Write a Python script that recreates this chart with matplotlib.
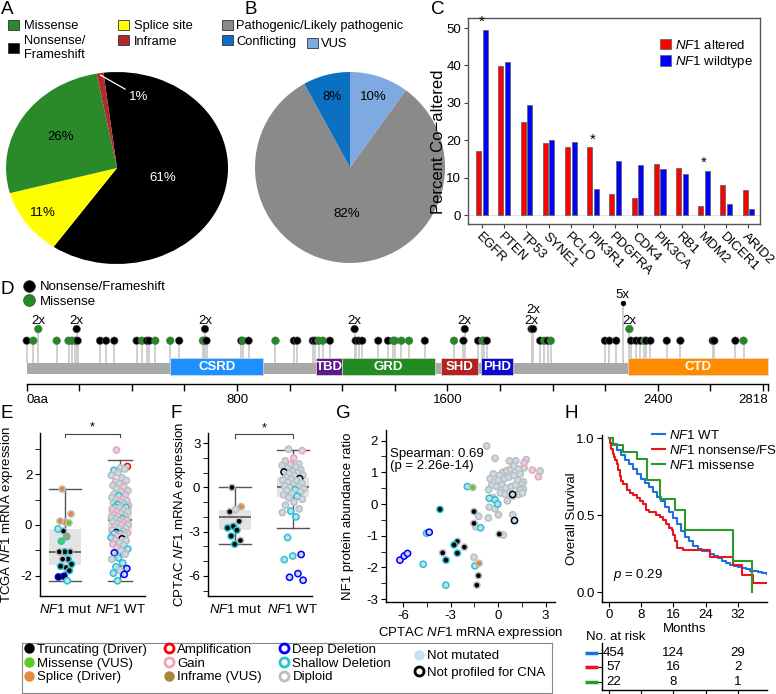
import numpy as np
import matplotlib
matplotlib.use('Agg')
import matplotlib.pyplot as plt
from matplotlib.patches import Patch
from matplotlib.lines import Line2D
import matplotlib.transforms as mtransforms

FS = 9.5
plt.rcParams.update({
    'font.family': ['Liberation Sans', 'DejaVu Sans'],
    'font.size': FS,
    'mathtext.fontset': 'custom',
    'mathtext.rm': 'Liberation Sans',
    'mathtext.it': 'Liberation Sans:italic',
    'mathtext.bf': 'Liberation Sans:bold',
    'axes.unicode_minus': False,
    'axes.linewidth': 1.0,
})

W, H = 776, 694
def rect(x0, y0, x1, y1):
    return [x0 / W, 1 - y1 / H, (x1 - x0) / W, (y1 - y0) / H]
def fx(x): return x / W
def fy(y): return 1 - y / H
NF1 = r'$\it{NF1}$'

# ---------------- data ----------------
a_labels = ['Nonsense/\nFrameshift', 'Splice site', 'Missense', 'Inframe']
a_values = [61, 11, 26, 1]
a_colors = ['#000000', '#FFFF00', '#2A8A2A', '#B22A2A']

b_labels = ['VUS', 'Pathogenic/Likely pathogenic', 'Conflicting']
b_values = [10, 82, 8]
b_colors = ['#7EA9E1', '#8A8A8A', '#0B70C2']

c_genes = ['EGFR', 'PTEN', 'TP53', 'SYNE1', 'PCLO', 'PIK3R1', 'PDGFRA', 'CDK4',
           'PIK3CA', 'RB1', 'MDM2', 'DICER1', 'ARID2']
c_altered = [17.0, 39.8, 25.0, 19.3, 18.1, 18.1, 5.7, 4.6, 13.6, 12.5, 2.3, 8.0, 6.8]
c_wildtype = [49.6, 41.0, 29.5, 20.0, 19.6, 6.9, 14.5, 13.4, 12.3, 11.0, 11.9, 2.9, 1.6]
c_signif = ['EGFR', 'PIK3R1', 'MDM2']

d_length = 2818
d_dom_names = ['CSRD', 'TBD', 'GRD', 'SHD', 'PHD', 'CTD']
d_dom_start = [546, 1100, 1199, 1574, 1729, 2288]
d_dom_end = [900, 1199, 1551, 1716, 1851, 2818]
d_dom_colors = ['#1E90FF', '#5A1A8C', '#228B22', '#B22222', '#0A0ACD', '#FF8C00']
d_pos = [0, 25, 44, 114, 159, 172, 185, 190, 194, 279, 302, 333, 418, 438, 457, 466,
         489, 546, 580, 670, 676, 678, 684, 816, 822, 844, 946, 1016, 1029, 1088,
         1098, 1110, 1126, 1153, 1247, 1251, 1263, 1276, 1337, 1374, 1394, 1400,
         1425, 1454, 1514, 1625, 1661, 1666, 1717, 1733, 1740, 1750, 1920, 1926,
         1953, 1968, 1981, 1993, 2199, 2216, 2242, 2267, 2292, 2298, 2318, 2334,
         2349, 2356, 2372, 2434, 2486, 2609, 2615, 2695, 2726]
d_type = ['N', 'M', 'M', 'M', 'M', 'M', 'M', 'N', 'N', 'N', 'N', 'N', 'N', 'M', 'N', 'N',
          'M', 'M', 'N', 'M', 'M', 'N', 'N', 'N', 'M', 'N', 'M', 'N', 'N', 'N',
          'N', 'M', 'M', 'N', 'N', 'N', 'N', 'N', 'N', 'N', 'M', 'M',
          'M', 'M', 'N', 'M', 'N', 'N', 'N', 'M', 'M', 'N', 'N', 'N',
          'N', 'M', 'N', 'M', 'N', 'N', 'N', 'N', 'M', 'N', 'N', 'N',
          'M', 'N', 'N', 'N', 'N', 'N', 'N', 'N', 'M']
d_count = [1, 1, 2, 1, 1, 1, 1, 2, 1, 1, 1, 1, 1, 1, 1, 1,
           1, 1, 1, 1, 1, 2, 1, 1, 1, 1, 1, 1, 1, 1,
           1, 1, 1, 1, 2, 1, 1, 1, 1, 1, 1, 1,
           1, 1, 1, 1, 1, 2, 1, 1, 1, 1, 2, 2,
           1, 1, 1, 1, 1, 1, 1, 5, 2, 1, 1, 1,
           1, 1, 1, 1, 1, 1, 1, 1, 1]
d_ticks = [0, 800, 1600, 2400, 2818]
d_ticklabels = ['0aa', '800', '1600', '2400', '2818']

# E: TCGA NF1 mRNA
e_mut_vals = [1.41, 0.43, 0.10, 0.15, 0.08, -0.24, -0.16, -0.46, -0.64, -1.06, -1.06,
              -1.06, -1.35, -1.35, -1.55, -1.68, -1.63, -1.80, -2.02, -2.05, -2.20]
e_mut_type = 'S S S S M T N S M T T T T T T T T T T T N'.split()
e_mut_cna = '2 2 2 2 2 2 S S S 2 S 2 S 2 S 2 S S D D S'.split()
e_wt_vals = [2.95, 2.30, 2.25, 2.15, 2.20, 2.05, 1.95, 1.85, 1.70, 1.75,
             1.62, 1.55, 1.50, 1.42, 1.35, 1.30, 1.22, 1.18, 1.15, 1.08,
             1.02, 0.98, 0.95, 0.90, 0.85, 0.82, 0.80, 0.76, 0.72, 0.70,
             0.69, 0.65, 0.60, 0.58, 0.52, 0.50, 0.45, 0.40, 0.35, 0.33,
             0.30, 0.25, 0.22, 0.18, 0.15, 0.10, 0.08, 0.05, 0.00, -0.02,
             -0.08, -0.12, -0.15, -0.20, -0.25, -0.30, -0.33, -0.35, -0.36, -0.40,
             -0.45, -0.50, -0.55, -0.60, -0.62, -0.70, -0.75, -0.80, -0.90, -0.95,
             -1.00, -1.10, -1.15, -1.30, -1.35, -1.50, -1.65, -1.72, -1.80, -1.90,
             -1.95, -2.20]
e_wt_cna = ('G A 2 S 2 2 2 2 G 2 '
            '2 2 G 2 2 G 2 G S 2 '
            'G 2 2 G 2 2 S G 2 S '
            'S 2 G 2 G 2 2 G 2 G '
            '2 S 2 G 2 2 G 2 2 G '
            '2 2 2 G 2 X G S S 2 '
            'G S X G 2 2 G 2 G S '
            '2 D 2 S 2 S S D 2 S '
            'D S').split()
e_mut_box = dict(whislo=-2.20, q1=-1.57, med=-1.07, q3=-0.16, whishi=1.41)
e_wt_box = dict(whislo=-2.20, q1=-0.40, med=0.18, q3=0.75, whishi=2.55)

# F: CPTAC NF1 mRNA
f_mut_vals = [0.0, -1.3, -1.5, -1.65, -2.3, -2.65, -2.75, -2.9, -3.3, -3.6, -3.85]
f_mut_type = 'T S N T T T T T T T T'.split()
f_mut_cna = '2 2 2 2 2 S S S S 2 S'.split()
f_wt_vals = [2.6, 2.5, 2.0, 1.8, 1.6, 1.55, 1.5, 1.4, 1.3, 1.2,
             1.1, 1.05, 1.0, 0.95, 0.85, 0.8, 0.7, 0.6, 0.55, 0.5,
             0.45, 0.35, 0.3, 0.2, 0.1, 0.05, 0.0, -0.1, -0.15, -0.2,
             -0.3, -0.4, -0.5, -0.6, -0.7, -0.8, -1.0, -1.2, -1.45, -1.6,
             -1.7, -2.0, -3.4, -4.55, -4.65, -4.9, -5.85, -6.1, -6.3]
f_wt_cna = ('2 G G 2 2 G 2 2 2 2 '
            '2 X 2 2 2 2 2 X 2 2 '
            '2 2 2 2 2 2 2 2 S 2 '
            '2 2 2 S 2 2 2 2 2 S '
            '2 S S D S S D D D').split()
f_mut_box = dict(whislo=-3.84, q1=-2.88, med=-2.03, q3=-1.53, whishi=0.0)
f_wt_box = dict(whislo=-2.73, q1=-0.62, med=0.0, q3=0.73, whishi=2.55)

# G: mRNA vs protein
g_x = [-0.72, -0.19, 0.72, 1.12, 1.78, 1.65, 2.66, 0.30, 0.55, 0.80,
       1.00, 1.30, 1.40, 0.10, -0.30, -0.50, 0.00, 0.40, 0.70, 1.00,
       1.25, 1.60, 1.50, -0.40, -0.10, 0.25, 0.50, 0.85, 1.10, 1.45,
       1.35, 1.60, 1.43, -0.60, 0.15, 0.45, 0.75, 1.30, 1.55, -0.55,
       -0.19, 0.02, -0.61, 0.93, -1.22, -1.40, 0.34, -1.52, -0.30, 0.60, 0.95,
       -1.94, -0.55, -0.19, -0.02, -1.10, -4.52, -4.73, -1.46, -3.30,
       -1.60, 1.65, 2.17, 2.55, 1.04, 0.92,
       -1.52, -1.52, 0.08, -3.50, -2.57, -2.13, -1.24, -1.34,
       -3.67, -3.29, -2.78, -2.57,
       -4.35, -6.20, -5.93, -5.72, -1.20]
g_y = [1.83, 1.44, 1.36, 1.36, 1.40, 1.14, 1.04, 1.00, 1.05, 1.10,
       1.20, 1.10, 0.95, 0.90, 0.95, 0.80, 0.75, 0.80, 0.85, 0.90,
       0.75, 0.70, 0.62, 0.60, 0.55, 0.60, 0.50, 0.55, 0.60, 0.50,
       0.42, 0.47, 0.44, 0.45, 0.35, 0.30, 0.35, 0.30, 0.35, -0.10,
       -0.15, -0.34, -0.44, -0.34, -0.39, -0.72, -0.98, -1.68, 0.20, 0.10, 0.25,
       0.55, 0.18, 0.13, 0.00, -0.75, -0.92, -1.90, -1.95, -2.56,
       0.52, 1.30, 1.07, 0.86, -0.52, 0.30,
       -0.24, -0.61, -0.95, -1.54, -1.18, -1.36, -2.26, -2.56,
       -0.17, -1.77, -1.29, -1.55,
       -0.89, -1.77, -1.64, -1.56, -1.87]
g_mut = (['N'] * 51 + ['N'] * 9 + ['M'] + ['N'] * 5 + ['T'] * 8 + ['T'] * 4
         + ['N'] * 4 + ['S'])
g_cna = (['2'] * 51 + ['S'] * 9 + ['2'] + ['G'] * 3 + ['X'] * 2 + ['2'] * 8
         + ['S'] * 4 + ['D'] * 4 + ['2'])

# H: survival
h_wt_t = [0, 1, 2, 3, 4, 5, 6, 7, 8, 9, 10, 11, 12, 13, 14, 15, 16, 17, 18, 19,
          20, 21, 22, 23, 24, 25, 26, 27, 28, 29, 30, 31, 32, 33, 34, 35, 36, 37, 38, 39.2]
h_wt_s = [1.0, 0.96, 0.92, 0.89, 0.86, 0.83, 0.80, 0.77, 0.735, 0.71, 0.68, 0.65,
          0.62, 0.59, 0.555, 0.52, 0.48, 0.44, 0.40, 0.36, 0.33, 0.30, 0.28, 0.27,
          0.265, 0.25, 0.235, 0.22, 0.205, 0.19, 0.18, 0.17, 0.163, 0.155, 0.148,
          0.14, 0.135, 0.13, 0.125, 0.12]
h_fs_t = [0, 0.3, 0.6, 0.9, 1.2, 1.6, 1.9, 2.3, 2.7, 3.1, 3.6, 4.4, 5.2, 6.0, 6.9,
          7.6, 8.5, 9.3, 10.0, 11.8, 12.7, 13.5, 14.2, 15.0, 15.6, 16.0, 16.4, 16.8,
          18.4, 25.0, 30.9, 33.0, 35.9, 39.2]
h_fs_s = [1.0, 0.965, 0.93, 0.895, 0.877, 0.86, 0.83, 0.79, 0.755, 0.72, 0.70,
          0.665, 0.647, 0.63, 0.61, 0.59, 0.57, 0.535, 0.52, 0.50, 0.49, 0.47, 0.44,
          0.42, 0.405, 0.37, 0.33, 0.29, 0.275, 0.232, 0.177, 0.115, 0.058, 0.058]
h_mis_t = [0, 1.0, 3.4, 7.0, 9.5, 12.6, 16.4, 18.9, 30.9, 35.6]
h_mis_s = [1.0, 0.955, 0.91, 0.864, 0.727, 0.606, 0.535, 0.405, 0.206, 0.0]
risk_times = [0, 16, 32]
risk_wt = [454, 124, 29]
risk_fs = [57, 16, 2]
risk_mis = [22, 8, 1]

# ---------------- styles ----------------
fill_map = {'T': '#000000', 'M': '#5CCB2A', 'S': '#E8883A', 'I': '#A8863A', 'N': '#C6DCEA'}
edge_map = {'A': '#FF0000', 'G': '#F5A0B4', 'D': '#0000FF', 'S': '#27C4D4',
            '2': '#BDBDBD', 'X': '#000000'}

fig = plt.figure(figsize=(W / 100, H / 100), dpi=100)

for (x, y, s) in [(1, 1, 'A'), (244, 1, 'B'), (431, 1, 'C'), (1, 281, 'D'),
                  (1, 405, 'E'), (171, 405, 'F'), (336, 405, 'G'), (564, 405, 'H')]:
    fig.text(fx(x), fy(y), s, fontsize=13.5, ha='left', va='top')

# ---------------- Panel A ----------------
axA = fig.add_axes(rect(6, 72, 228, 264))
wA, _ = axA.pie(a_values, colors=a_colors, startangle=97, counterclock=False,
                wedgeprops=dict(linewidth=0))
axA.set_aspect('auto'); axA.set_xlim(-1, 1); axA.set_ylim(-1, 1)
a_r = [0.42, 0.82, 0.6, None]
a_tc = ['white', 'black', 'black', 'white']
for w, v, r, c in zip(wA, a_values, a_r, a_tc):
    ang = np.deg2rad((w.theta1 + w.theta2) / 2)
    if r is None:
        axA.annotate(f'{v}%', xy=(0.98 * np.cos(ang), 0.98 * np.sin(ang)),
                     xytext=(0.11, 0.74), color=c, ha='left', va='center',
                     fontsize=FS,
                     arrowprops=dict(arrowstyle='-', color='white', lw=0.9,
                                     shrinkA=1, shrinkB=0))
    else:
        axA.text(r * np.cos(ang), r * np.sin(ang), f'{v}%', color=c,
                 ha='center', va='center', fontsize=FS)

hA = {lab: Patch(facecolor=col, edgecolor='#333333', linewidth=0.6)
      for lab, col in zip(a_labels, a_colors)}
order = ['Missense', 'Nonsense/\nFrameshift', 'Splice site', 'Inframe']
fig.legend([hA[k] for k in order], order, ncol=2, loc='upper left',
           bbox_to_anchor=(fx(8), fy(19.5)), frameon=False, borderpad=0,
           borderaxespad=0, handlelength=0.85, handleheight=0.85,
           handletextpad=0.4, labelspacing=0.22, columnspacing=2.5, fontsize=9.3)

# ---------------- Panel B ----------------
axB = fig.add_axes(rect(255, 72, 445, 263))
wB, _ = axB.pie(b_values, colors=b_colors, startangle=90, counterclock=False,
                wedgeprops=dict(linewidth=0))
axB.set_aspect('auto'); axB.set_xlim(-1, 1); axB.set_ylim(-1, 1)
for w, v, r in zip(wB, b_values, [0.78, 0.49, 0.76]):
    ang = np.deg2rad((w.theta1 + w.theta2) / 2)
    axB.text(r * np.cos(ang), r * np.sin(ang), f'{v}%', color='black',
             ha='center', va='center', fontsize=FS)
hB = {lab: Patch(facecolor=col, edgecolor='#333333', linewidth=0.6)
      for lab, col in zip(b_labels, b_colors)}
fig.legend([hB[b_labels[1]], hB[b_labels[2]]], [b_labels[1], b_labels[2]],
           loc='upper left', bbox_to_anchor=(fx(222), fy(19.5)), frameon=False,
           borderpad=0, borderaxespad=0, handlelength=0.85, handleheight=0.85,
           handletextpad=0.25, labelspacing=0.22, fontsize=9.3)
fig.legend([hB[b_labels[0]]], [b_labels[0]], loc='upper left',
           bbox_to_anchor=(fx(307), fy(37.8)), frameon=False, borderpad=0,
           borderaxespad=0, handlelength=0.85, handleheight=0.85,
           handletextpad=0.25, fontsize=9.3)

# ---------------- Panel C ----------------
axC = fig.add_axes(rect(468, 18, 760, 224))
xC = np.arange(len(c_genes))
axC.axhline(0, color='#E2E2E2', lw=0.8, zorder=0)
axC.bar(xC - 0.15, c_altered, width=0.23, color='#FF0000', edgecolor='#666666',
        linewidth=0.6, label=NF1 + ' altered')
axC.bar(xC + 0.15, c_wildtype, width=0.23, color='#0000FF', edgecolor='#666666',
        linewidth=0.6, label=NF1 + ' wildtype')
for g in c_signif:
    i = c_genes.index(g)
    axC.text(i, max(c_altered[i], c_wildtype[i]) + 0.2, '*', ha='center',
             va='bottom', fontsize=11)
axC.set_xlim(-0.63, 12.52); axC.set_ylim(-2.4, 52.7)
axC.set_yticks([0, 10, 20, 30, 40, 50])
axC.set_xticks(xC)
axC.set_xticklabels(c_genes, rotation=-45, ha='left', va='top',
                    rotation_mode='anchor', fontsize=FS)
axC.tick_params(axis='y', labelsize=FS)
axC.tick_params(length=3, color='#444444', pad=2)
for s in axC.spines.values():
    s.set_color('#555555')
axC.set_ylabel('Percent Co\u2212altered', fontsize=12)
axC.yaxis.set_label_coords((446 - 468) / 292, 0.4)
axC.legend(loc='upper left', bbox_to_anchor=(fx(653), fy(32)),
           bbox_transform=fig.transFigure, frameon=False, borderpad=0,
           handlelength=0.85, handleheight=0.85, handletextpad=0.3,
           labelspacing=0.2, fontsize=FS)

# ---------------- Panel D ----------------
axD = fig.add_axes(rect(20, 280, 772, 384))
px_per_aa = (767.7 - 26.7) / d_length
axD.set_xlim(-(26.7 - 20) / px_per_aa, d_length + (772 - 767.7) / px_per_aa)
axD.set_ylim(0, 104)
axD.barh(15.5, d_length, left=0, height=11, color='#A9A9A9', zorder=1)
axD.barh([17.5] * len(d_dom_names),
         [e - s for s, e in zip(d_dom_start, d_dom_end)], left=d_dom_start,
         height=17, color=d_dom_colors, edgecolor='#DDDDDD', linewidth=0.5, zorder=2)
for n, s, e in zip(d_dom_names, d_dom_start, d_dom_end):
    axD.text((s + e) / 2, 17.5, n, color='white', fontweight='bold', ha='center',
             va='center', fontsize=FS, zorder=3)
lvl = {1: 43.3, 2: 55.0, 5: 81.0}
dcol = {'N': '#000000', 'M': '#1E8C1E'}
axD.vlines(d_pos, 21, [lvl[c] for c in d_count], color='#C8C8C8', lw=1.2, zorder=1)
big = [i for i, c in enumerate(d_count) if c < 5]
small = [i for i, c in enumerate(d_count) if c >= 5]
axD.scatter([d_pos[i] for i in big], [lvl[d_count[i]] for i in big], s=30,
            c=[dcol[d_type[i]] for i in big], edgecolors='#666666', linewidths=0.4,
            zorder=4)
axD.scatter([d_pos[i] for i in small], [lvl[d_count[i]] for i in small], s=8,
            c=[dcol[d_type[i]] for i in small], zorder=4)
last_x, last_c, stack = -1e9, None, 0
for p, c in zip(d_pos, d_count):
    if c > 1:
        stack = stack + 1 if (p - last_x < 30 and c == last_c) else 0
        axD.text(p, lvl[c] + 8.5 + 11 * stack, f'{c}x', ha='center', va='center',
                 fontsize=FS)
        last_x, last_c = p, c
for s in ['top', 'right', 'left']:
    axD.spines[s].set_visible(False)
axD.spines['bottom'].set_bounds(0, d_length)
axD.set_yticks([])
axD.set_xticks(list(range(0, 2801, 200)) + [d_length], minor=True)
axD.set_xticks(d_ticks)
axD.set_xticklabels(d_ticklabels, fontsize=FS)
axD.get_xticklabels()[0].set_ha('left')
axD.get_xticklabels()[-1].set_ha('right')
axD.tick_params(axis='x', which='both', length=5, width=1, pad=2)
axD.legend([Line2D([], [], ls='none', marker='o', markersize=8.5, markerfacecolor='#000000',
                   markeredgecolor='#444444', markeredgewidth=0.5),
            Line2D([], [], ls='none', marker='o', markersize=8.5, markerfacecolor='#1E8C1E',
                   markeredgecolor='#444444', markeredgewidth=0.5)],
           ['Nonsense/Frameshift', 'Missense'], loc='upper left',
           bbox_to_anchor=(fx(22), fy(281)), bbox_transform=fig.transFigure,
           frameon=False, borderpad=0, borderaxespad=0, handlelength=1.0,
           handletextpad=0.35, labelspacing=0.2, fontsize=FS)

# ---------------- helpers for E/F ----------------
def jitter(n, spread, phase=0.3):
    return ((np.arange(n) * 0.618034 + phase) % 1 - 0.5) * 2 * spread

def points(ax, pos, vals, types, cnas, spread, phase=0.3):
    x = pos + jitter(len(vals), spread, phase)
    ax.scatter(x, vals, s=20, c=[fill_map[t] for t in types],
               edgecolors=[edge_map[c] for c in cnas], linewidths=1.1, zorder=3)

def boxes(ax, stats, widths):
    ax.bxp([dict(s, label='') for s in stats], positions=[1, 2], widths=widths,
           capwidths=widths, showfliers=False, patch_artist=True,
           boxprops=dict(facecolor='#E4E4E4', edgecolor='none'),
           medianprops=dict(color='#555555', lw=1.2),
           whiskerprops=dict(color='#555555', lw=1.0),
           capprops=dict(color='#555555', lw=1.0), zorder=1)

def bracket(ax, y, ytick):
    ax.plot([1, 1, 2, 2], [ytick, y, y, ytick], color='#444444', lw=0.8, clip_on=False)
    ax.text(1.5, y, '*', ha='center', va='bottom', fontsize=9)

def style_group_axis(ax, labx):
    for s in ['top', 'right']:
        ax.spines[s].set_visible(False)
    ax.set_xticks([1, 2])
    ax.set_xticklabels([NF1 + ' mut', NF1 + ' WT'], fontsize=FS)
    ax.tick_params(axis='x', length=0, pad=5)
    ax.tick_params(axis='y', which='both', length=3.5, labelsize=FS, pad=2)
    ax.yaxis.set_label_coords(labx, 0.5)

# ---------------- Panel E ----------------
axE = fig.add_axes(rect(40, 433, 145, 596))
boxes(axE, [e_mut_box, e_wt_box], [0.58, 0.42])
points(axE, 1, e_mut_vals, e_mut_type, e_mut_cna, 0.13)
points(axE, 2, e_wt_vals, ['N'] * len(e_wt_vals), e_wt_cna, 0.16)
axE.set_xlim(0.545, 2.455); axE.set_ylim(-2.8, 3.62)
axE.set_yticks([-2, 0, 2]); axE.set_yticks([-1, 1, 3], minor=True)
style_group_axis(axE, (15 - 40) / 105)
axE.set_ylabel('TCGA ' + NF1 + ' mRNA expression', fontsize=FS)
bracket(axE, 3.6, 3.46)

# ---------------- Panel F ----------------
axF = fig.add_axes(rect(208, 433, 312, 596))
boxes(axF, [f_mut_box, f_wt_box], [0.56, 0.56])
points(axF, 1, f_mut_vals, f_mut_type, f_mut_cna, 0.13)
points(axF, 2, f_wt_vals, ['N'] * len(f_wt_vals), f_wt_cna, 0.19)
axF.set_xlim(0.534, 2.33); axF.set_ylim(-7.37, 3.7)
axF.set_yticks([-6, -3, 0, 3]); axF.set_yticks(range(-7, 4), minor=True)
style_group_axis(axF, (188 - 208) / 104)
axF.set_ylabel('CPTAC ' + NF1 + ' mRNA expression', fontsize=FS)
bracket(axF, 3.6, 3.35)

# ---------------- Panel G ----------------
axG = fig.add_axes(rect(385.7, 429.5, 555, 602.3))
axG.scatter(g_x, g_y, s=20, c=[fill_map[t] for t in g_mut],
            edgecolors=[edge_map[c] for c in g_cna], linewidths=1.1, zorder=3)
axG.set_xlim(-7.1, 3.6); axG.set_ylim(-3.1, 2.35)
for s in ['top', 'right']:
    axG.spines[s].set_visible(False)
axG.set_xticks([-6, -3, 0, 3]); axG.set_xticks(np.arange(-6, 3.1, 1.5), minor=True)
axG.set_yticks([-3, -2, -1, 0, 1, 2]); axG.set_yticks(np.arange(-3, 2.1, 0.5), minor=True)
axG.tick_params(which='both', length=3.5, labelsize=FS, pad=2)
axG.set_ylabel('NF1 protein abundance ratio', fontsize=FS)
axG.yaxis.set_label_coords((354 - 385.7) / 169.3, 0.5)
axG.set_xlabel('CPTAC ' + NF1 + ' mRNA expression', fontsize=FS, labelpad=2)
axG.text(-6.85, 1.78, 'Spearman: 0.69\n(p = 2.26e-14)', ha='left', va='top',
         fontsize=FS, linespacing=1.05)

# ---------------- Panel H ----------------
axH = fig.add_axes(rect(602.3, 435, 766.7, 601.7))
axH.plot(h_wt_t, h_wt_s, drawstyle='steps-post', color='#1F6FE0', lw=1.5,
         label=NF1 + ' WT')
axH.plot(h_fs_t, h_fs_s, drawstyle='steps-post', color='#E8161C', lw=1.5,
         label=NF1 + ' nonsense/FS')
axH.plot(h_mis_t, h_mis_s, drawstyle='steps-post', color='#2A9A2A', lw=1.5,
         label=NF1 + ' missense')
axH.set_xlim(-1.67, 39.2); axH.set_ylim(-0.061, 1.02)
for s in ['top', 'right']:
    axH.spines[s].set_visible(False)
axH.set_xticks([0, 8, 16, 24, 32]); axH.set_yticks([0.0, 0.5, 1.0])
axH.set_yticklabels(['0.0', '0.5', '1.0'])
axH.tick_params(length=3.5, labelsize=FS, pad=2)
axH.set_xlabel('Months', fontsize=FS, labelpad=1)
axH.set_ylabel('Overall Survival', fontsize=FS)
axH.yaxis.set_label_coords((578 - 602.3) / 164.4, 0.5)
axH.text(1.0, 0.11, r'$\it{p}$ = 0.29', ha='left', va='center', fontsize=FS)
axH.legend(loc='upper left', bbox_to_anchor=(fx(652), fy(429)),
           bbox_transform=fig.transFigure, frameon=False, borderpad=0,
           borderaxespad=0, handlelength=1.0, handletextpad=0.3,
           labelspacing=0.15, fontsize=FS)

# risk table
axR = fig.add_axes(rect(602.3, 643, 766.7, 690))
axR.set_xlim(-1.67, 39.2); axR.set_ylim(0.454, 3.66)
for s in ['top', 'right']:
    axR.spines[s].set_visible(False)
axR.set_xticks([0, 8, 16, 24, 32]); axR.set_xticklabels([])
axR.set_yticks([1, 2, 3]); axR.set_yticklabels([])
axR.tick_params(length=3)
tr = mtransforms.blended_transform_factory(axR.transAxes, axR.transData)
for row, vals, col in [(3, risk_wt, '#1F6FE0'), (2, risk_fs, '#E8161C'),
                       (1, risk_mis, '#2A9A2A')]:
    axR.plot([-0.105, -0.026], [row, row], color=col, lw=2.5, transform=tr,
             clip_on=False, solid_capstyle='butt')
    for t, v in zip(risk_times, vals):
        axR.text(t if t > 0 else 1.1, row, str(v), ha='center', va='center',
                 fontsize=FS)
fig.text(fx(586), fy(637), 'No. at risk', ha='left', va='center', fontsize=FS)

# ---------------- bottom legend ----------------
axL = fig.add_axes(rect(22, 643, 552, 693))
axL.set_xticks([]); axL.set_yticks([])
for s in axL.spines.values():
    s.set_color('#888888'); s.set_linewidth(0.8)
axL.patch.set_alpha(0)

def dot(c):
    return Line2D([], [], ls='none', marker='o', markersize=6.5, markerfacecolor=c,
                  markeredgecolor=c)
def ring(c):
    return Line2D([], [], ls='none', marker='o', markersize=6.5, markerfacecolor='white',
                  markeredgecolor=c, markeredgewidth=2)

h1 = [dot(fill_map['T']), dot(fill_map['M']), dot(fill_map['S']),
      ring(edge_map['A']), ring(edge_map['G']), dot(fill_map['I']),
      ring(edge_map['D']), ring(edge_map['S']), ring(edge_map['2'])]
l1 = ['Truncating (Driver)', 'Missense (VUS)', 'Splice (Driver)',
      'Amplification', 'Gain', 'Inframe (VUS)',
      'Deep Deletion', 'Shallow Deletion', 'Diploid']
leg1 = axL.legend(h1, l1, ncol=3, loc='upper left', bbox_to_anchor=(fx(24), fy(643.5)),
                  bbox_transform=fig.transFigure, frameon=False, borderpad=0,
                  borderaxespad=0, handlelength=0.7, handletextpad=0.3,
                  labelspacing=0.12, columnspacing=1.3, fontsize=FS)
axL.add_artist(leg1)
axL.legend([dot('#C9E1EE'), ring('#000000')], ['Not mutated', 'Not profiled for CNA'],
           loc='upper left', bbox_to_anchor=(fx(414), fy(650)),
           bbox_transform=fig.transFigure, frameon=False, borderpad=0,
           borderaxespad=0, handlelength=0.7, handletextpad=0.3,
           labelspacing=0.35, fontsize=FS)

fig.savefig('out.png', dpi=100)
